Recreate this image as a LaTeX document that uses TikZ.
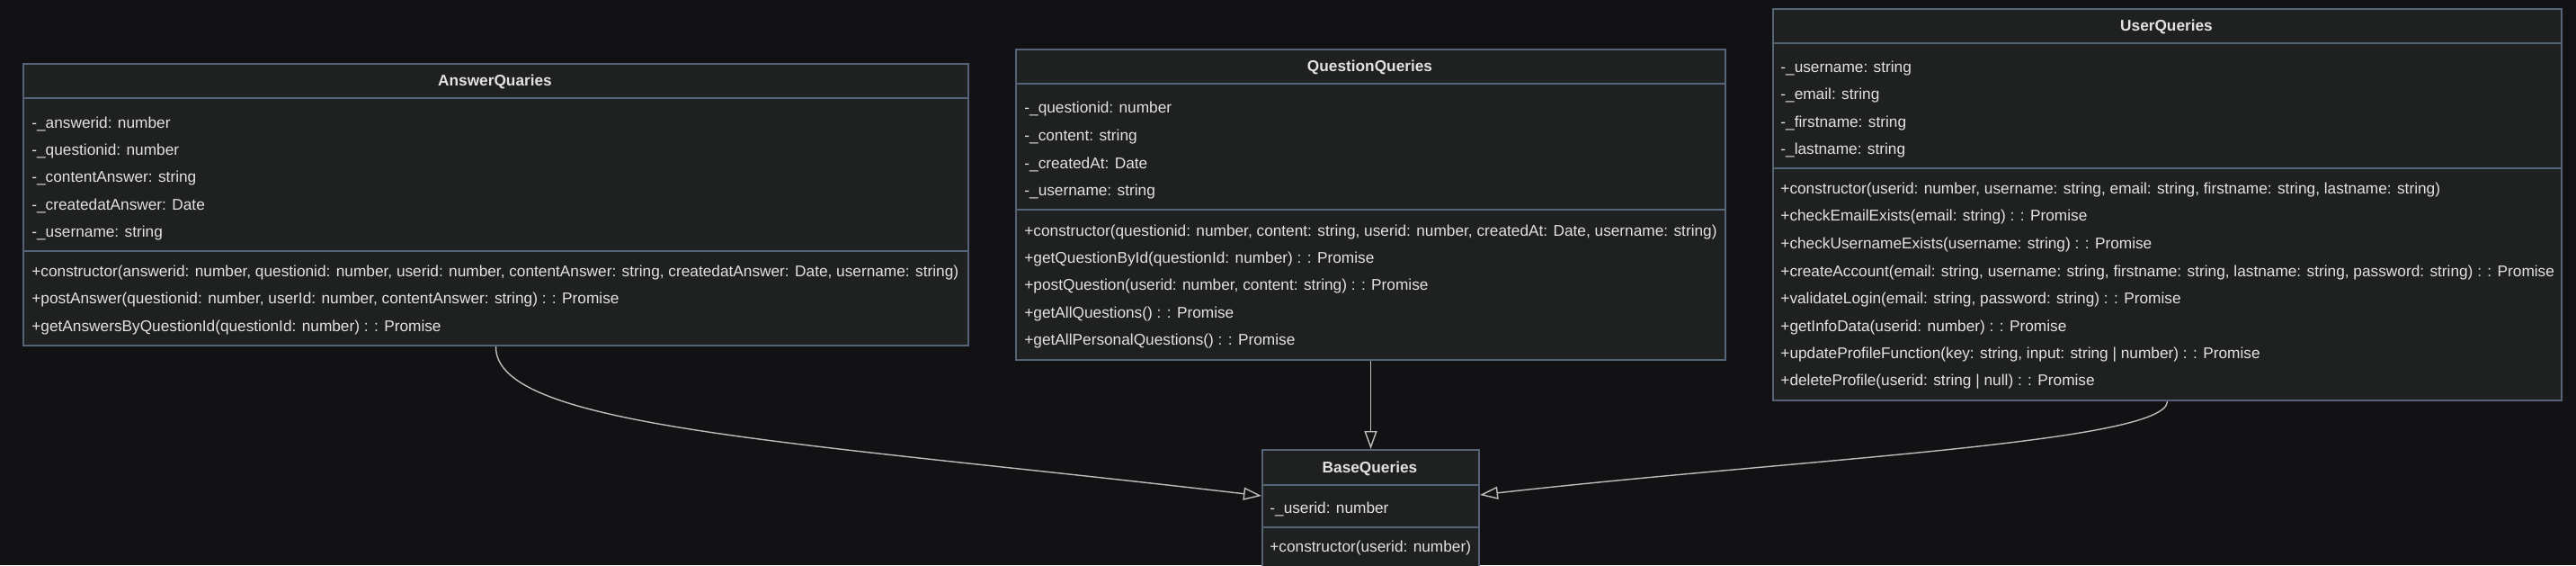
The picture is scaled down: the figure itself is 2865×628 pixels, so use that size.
\documentclass[tikz,border=0pt]{standalone}
\usepackage{fontspec}
\setmainfont{Liberation Sans}
\usetikzlibrary{arrows.meta,calc}
\definecolor{bgc}{RGB}{18,18,20}
\definecolor{boxc}{RGB}{31,32,32}
\definecolor{bordc}{RGB}{86,100,120}
\definecolor{txtc}{RGB}{226,226,226}
\definecolor{linec}{RGB}{190,190,190}
\begin{document}
\begin{tikzpicture}[x=0.5pt,y=-0.5pt,
  classbox/.style={draw=bordc, fill=boxc, line width=1pt, anchor=north west, inner sep=0pt, rectangle},
  divider/.style={draw=bordc, line width=1pt},
  classtitle/.style={text=txtc, font=\fontsize{8.63}{10}\selectfont\bfseries, inner sep=0pt, anchor=mid},
  member/.style={text=txtc, font=\fontsize{8.63}{10}\selectfont, inner sep=0pt, anchor=mid west},
  inherit/.style={draw=linec, line width=0.7pt, -{Triangle[length=10pt,width=7pt,fill=bgc]}}
]
\fill[bgc] (0,0) rectangle (2865,628);
\useasboundingbox (0,0) rectangle (2865,628);
\clip (0,0) rectangle (2865,628);

% ---------- AnswerQuaries ----------
\node[classbox, minimum width=525.5pt, minimum height=156.5pt] (AQ) at (25,70) {};
\draw[divider] (25,109) -- (1076,109);
\draw[divider] (25,279) -- (1076,279);
\node[classtitle] (AQt) at (550.5,90) {AnswerQuaries};
\foreach \yy/\t [count=\i] in {137/{-\_answerid: number},167/{-\_questionid: number},197/{-\_contentAnswer: string},228/{-\_createdatAnswer: Date},258/{-\_username: string}}
  \node[member] (AQa\i) at (35,\yy) {\t};
\foreach \yy/\t [count=\i] in {302/{+constructor(answerid: number, questionid: number, userid: number, contentAnswer: string, createdatAnswer: Date, username: string)},332/{+postAnswer(questionid: number, userId: number, contentAnswer: string) : : Promise},363/{+getAnswersByQuestionId(questionId: number) : : Promise}}
  \node[member] (AQm\i) at (35,\yy) {\t};

% ---------- QuestionQueries ----------
\node[classbox, minimum width=394.5pt, minimum height=172.5pt] (QQ) at (1129,54) {};
\draw[divider] (1129,93) -- (1918,93);
\draw[divider] (1129,233) -- (1918,233);
\node[classtitle] (QQt) at (1523.5,74) {QuestionQueries};
\foreach \yy/\t [count=\i] in {120/{-\_questionid: number},151/{-\_content: string},182/{-\_createdAt: Date},212/{-\_username: string}}
  \node[member] (QQa\i) at (1139,\yy) {\t};
\foreach \yy/\t [count=\i] in {257/{+constructor(questionid: number, content: string, userid: number, createdAt: Date, username: string)},287/{+getQuestionById(questionId: number) : : Promise},317/{+postQuestion(userid: number, content: string) : : Promise},348/{+getAllQuestions() : : Promise},378/{+getAllPersonalQuestions() : : Promise}}
  \node[member] (QQm\i) at (1139,\yy) {\t};

% ---------- UserQueries ----------
\node[classbox, minimum width=438.5pt, minimum height=217.5pt] (UQ) at (1971,9) {};
\draw[divider] (1971,48) -- (2848,48);
\draw[divider] (1971,187) -- (2848,187);
\node[classtitle] (UQt) at (2409.5,29) {UserQueries};
\foreach \yy/\t [count=\i] in {75/{-\_username: string},105/{-\_email: string},136/{-\_firstname: string},166/{-\_lastname: string}}
  \node[member] (UQa\i) at (1980,\yy) {\t};
\foreach \yy/\t [count=\i] in {210/{+constructor(userid: number, username: string, email: string, firstname: string, lastname: string)},240/{+checkEmailExists(email: string) : : Promise},271/{+checkUsernameExists(username: string) : : Promise},302/{+createAccount(email: string, username: string, firstname: string, lastname: string, password: string) : : Promise},332/{+validateLogin(email: string, password: string) : : Promise},363/{+getInfoData(userid: number) : : Promise},393/{+updateProfileFunction(key: string, input: string | number) : : Promise},423/{+deleteProfile(userid: string | null) : : Promise}}
  \node[member] (UQm\i) at (1980,\yy) {\t};

% ---------- BaseQueries ----------
\node[classbox, minimum width=120.5pt, minimum height=70pt] (BQ) at (1403,499) {};
\draw[divider] (1403,539) -- (1644,539);
\draw[divider] (1403,586) -- (1644,586);
\node[classtitle] (BQt) at (1523.5,520) {BaseQueries};
\node[member] (BQa1) at (1412,565) {-\_userid: number};
\node[member] (BQm1) at (1412,608) {+constructor(userid: number)};

% ---------- inheritance connectors ----------
\draw[inherit] (AQ.south) .. controls (550,475) and (880,490) .. ($(BQ.north west)+(0,52)$);
\draw[inherit] (QQ.south) -- (BQ.north);
\draw[inherit] (UQ.south) .. controls (2410,492) and (2000,510) .. ($(BQ.north east)+(0,51)$);
\end{tikzpicture}
\end{document}
